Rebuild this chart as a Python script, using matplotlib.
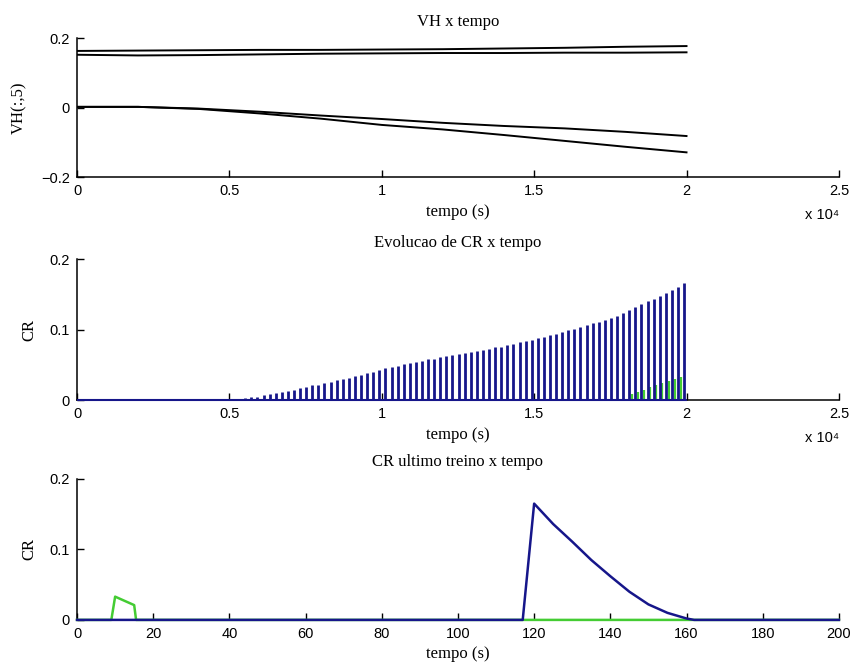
import numpy as np
import matplotlib
matplotlib.use("Agg")
import matplotlib.pyplot as plt

# ---------------- data ----------------
# Panel 1: VH(:,5) vs tempo (s)
vh_t = [0, 2000, 4000, 6000, 8000, 10000, 12000, 14000, 16000, 18000, 20000]
vh_1 = [0.163, 0.164, 0.165, 0.166, 0.166, 0.167, 0.168, 0.170, 0.172, 0.175, 0.177]
vh_2 = [0.152, 0.150, 0.151, 0.153, 0.155, 0.156, 0.157, 0.157, 0.158, 0.158, 0.159]
vh_3 = [0.002, 0.002, -0.003, -0.012, -0.023, -0.033, -0.044, -0.053, -0.060, -0.070, -0.082]
vh_4 = [0.002, 0.002, -0.004, -0.017, -0.032, -0.050, -0.063, -0.079, -0.096, -0.113, -0.129]

# Panel 2: CR peak per trial (trial length 200 s, 100 trials)
trial_len = 200
n_trials = 100
cr_peak_offset = 120          # s within trial
us_peak_offset = 10           # s within trial (green)
blue_trials = list(range(27, 100))
blue_peaks = [0.003, 0.004, 0.005, 0.007, 0.008, 0.010, 0.012, 0.013, 0.015, 0.017,
              0.019, 0.021, 0.022, 0.024, 0.026, 0.028, 0.030, 0.032, 0.034, 0.036,
              0.038, 0.040, 0.043, 0.045, 0.047, 0.049, 0.051, 0.053, 0.054, 0.056,
              0.058, 0.059, 0.061, 0.062, 0.064, 0.065, 0.067, 0.068, 0.070, 0.071,
              0.073, 0.075, 0.076, 0.078, 0.080, 0.082, 0.084, 0.086, 0.088, 0.090,
              0.092, 0.094, 0.096, 0.099, 0.101, 0.104, 0.106, 0.109, 0.111, 0.114,
              0.117, 0.120, 0.123, 0.128, 0.132, 0.136, 0.140, 0.144, 0.148, 0.152,
              0.156, 0.160, 0.166]
green_trials = list(range(91, 100))
green_peaks = [0.008, 0.012, 0.015, 0.018, 0.021, 0.024, 0.027, 0.030, 0.033]

# Panel 3: last trial
last_t_blue = [0, 117, 120, 125, 130, 135, 140, 145, 150, 155, 160, 162, 200]
last_cr_blue = [0, 0, 0.165, 0.136, 0.111, 0.085, 0.062, 0.040, 0.022, 0.010, 0.002, 0, 0]
last_t_green = [0, 9, 10, 15, 15.5, 200]
last_cr_green = [0, 0, 0.033, 0.021, 0, 0]

x1_ticks = [0, 5000, 10000, 15000, 20000, 25000]
x1_labels = ["0", "0.5", "1", "1.5", "2", "2.5"]
x3_ticks = list(range(0, 201, 20))

# ---------------- style ----------------
BLUE = "#16168a"
GREEN = "#44cc33"
serif = ["Liberation Serif", "DejaVu Serif"]
sans = ["Liberation Sans", "DejaVu Sans"]
plt.rcParams["font.family"] = sans

fig = plt.figure(figsize=(8.56, 6.68), dpi=100)
L, W = 0.09, 0.890
ax1 = fig.add_axes([L, 0.735, W, 0.208])
ax2 = fig.add_axes([L, 0.401, W, 0.211])
ax3 = fig.add_axes([L, 0.072, W, 0.211])


def style(ax):
    for s in ("top", "right"):
        ax.spines[s].set_visible(False)
    for s in ("left", "bottom"):
        ax.spines[s].set_linewidth(1.1)
    ax.tick_params(direction="in", length=5, width=1.0, labelsize=10.5, pad=5)
    for lab in ax.get_xticklabels() + ax.get_yticklabels():
        lab.set_family(sans)


# Panel 1
for ys in (vh_1, vh_2, vh_3, vh_4):
    ax1.plot(vh_t, ys, color="black", lw=1.4)
ax1.set_xlim(0, 25000)
ax1.set_ylim(-0.2, 0.2)
ax1.set_yticks([-0.2, 0, 0.2])
ax1.set_yticklabels(["\u22120.2", "0", "0.2"])
ax1.set_xticks(x1_ticks)
ax1.set_xticklabels(x1_labels)
ax1.set_title("VH x tempo", family=serif, fontsize=12, pad=9)
ax1.set_xlabel("tempo (s)", family=serif, fontsize=12, labelpad=4)
ax1.set_ylabel("VH(:,5)", family=serif, fontsize=12)
ax1.yaxis.set_label_coords(-0.066, 0.5)
style(ax1)
ax1.text(1.0, -0.27, "x 10\u2074", transform=ax1.transAxes, ha="right", va="center",
         fontsize=10.5, family=sans)

# Panel 2
g_t = [trial_len * k + us_peak_offset for k in green_trials]
b_t = [trial_len * k + cr_peak_offset for k in blue_trials]
ax2.vlines(g_t, 0, green_peaks, color=GREEN, lw=1.6, zorder=3, clip_on=False)
ax2.hlines(0, 0, trial_len * n_trials, color=BLUE, lw=1.5, zorder=3, clip_on=False)
ax2.vlines(b_t, 0, blue_peaks, color=BLUE, lw=2.0, zorder=3, clip_on=False)
ax2.set_xlim(0, 25000)
ax2.set_ylim(0, 0.2)
ax2.set_yticks([0, 0.1, 0.2])
ax2.set_yticklabels(["0", "0.1", "0.2"])
ax2.set_xticks(x1_ticks)
ax2.set_xticklabels(x1_labels)
ax2.set_title("Evolucao de CR x tempo", family=serif, fontsize=12, pad=9)
ax2.set_xlabel("tempo (s)", family=serif, fontsize=12, labelpad=4)
ax2.set_ylabel("CR", family=serif, fontsize=12)
ax2.yaxis.set_label_coords(-0.052, 0.5)
style(ax2)
ax2.text(1.0, -0.27, "x 10\u2074", transform=ax2.transAxes, ha="right", va="center",
         fontsize=10.5, family=sans)

# Panel 3
ax3.plot(last_t_green, last_cr_green, color=GREEN, lw=1.8, zorder=3, clip_on=False)
ax3.plot(last_t_blue, last_cr_blue, color=BLUE, lw=1.8, zorder=4, clip_on=False)
ax3.set_xlim(0, 200)
ax3.set_ylim(0, 0.2)
ax3.set_yticks([0, 0.1, 0.2])
ax3.set_yticklabels(["0", "0.1", "0.2"])
ax3.set_xticks(x3_ticks)
ax3.set_title("CR ultimo treino x tempo", family=serif, fontsize=12, pad=9)
ax3.set_xlabel("tempo (s)", family=serif, fontsize=12, labelpad=4)
ax3.set_ylabel("CR", family=serif, fontsize=12)
ax3.yaxis.set_label_coords(-0.052, 0.5)
style(ax3)

fig.savefig("out.png", dpi=100)
